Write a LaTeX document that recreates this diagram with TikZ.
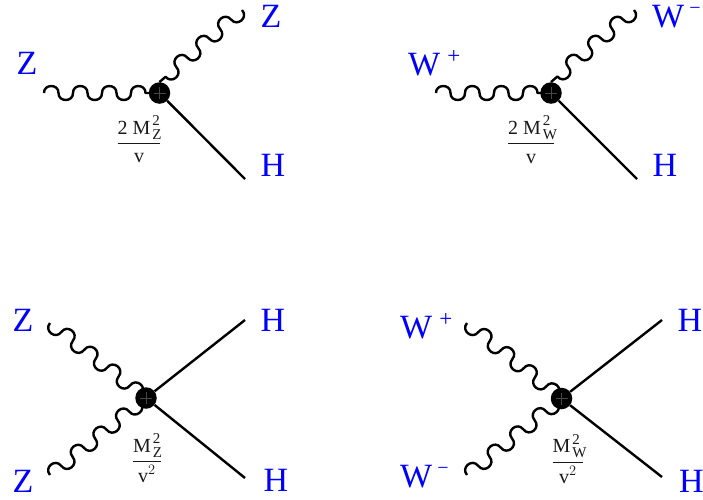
\documentclass[tikz,border=0pt]{standalone}
\usepackage{fontspec}
\setmainfont{Liberation Serif}
\usetikzlibrary{decorations}
\pgfdeclaredecoration{wigline}{up}{
  \state{up}[width=+.5\pgfdecorationsegmentlength,next state=down,
    switch if less than=.5\pgfdecorationsegmentlength to last]{
    \pgfpathcurveto
      {\pgfqpoint{-.01\pgfdecorationsegmentlength}{1.33\pgfdecorationsegmentamplitude}}
      {\pgfqpoint{.51\pgfdecorationsegmentlength}{1.33\pgfdecorationsegmentamplitude}}
      {\pgfqpoint{.5\pgfdecorationsegmentlength}{0pt}}
  }
  \state{down}[width=+.5\pgfdecorationsegmentlength,next state=up,
    switch if less than=.5\pgfdecorationsegmentlength to last]{
    \pgfpathcurveto
      {\pgfqpoint{-.01\pgfdecorationsegmentlength}{-1.33\pgfdecorationsegmentamplitude}}
      {\pgfqpoint{.51\pgfdecorationsegmentlength}{-1.33\pgfdecorationsegmentamplitude}}
      {\pgfqpoint{.5\pgfdecorationsegmentlength}{0pt}}
  }
  \state{last}{\pgfpathlineto{\pgfpointdecoratedpathlast}}
  \state{final}{\pgfpathlineto{\pgfpointdecoratedpathlast}}
}
\newcommand{\sbp}[2]{\hspace{2pt}\rlap{\raisebox{8.5pt}{\fontsize{15}{15}\selectfont #1}}\raisebox{-5pt}{\fontsize{15}{15}\selectfont #2}}
\newcommand{\frc}[2]{$\displaystyle{\hbox{#1}\above 1.2pt\hbox{#2}}$}
\newcommand{\Wp}{W\hspace{7pt}\raisebox{12pt}{\fontsize{23}{23}\selectfont +}}
\newcommand{\Wm}{W\hspace{5pt}\raisebox{13pt}{\fontsize{20}{20}\selectfont −}}
\newcommand{\blobhatch}[1]{\draw[hatch] ([xshift=-6pt]#1.center) -- ([xshift=6pt]#1.center);
  \draw[hatch] ([yshift=-6pt]#1.center) -- ([yshift=6pt]#1.center);}
\tikzset{
  x=1pt,y=-1pt,
  lab/.style={text=blue,font=\fontsize{34}{34}\selectfont,inner sep=0pt},
  wlab/.style={lab,anchor=west},
  coup/.style={text=black!90,font=\fontsize{20}{20}\selectfont,inner sep=0pt},
  blob/.style={circle,fill=black,minimum size=21.5pt,inner sep=0pt},
  scalar/.style={draw=black,line width=2.4pt},
  boson/.style={draw=black,line width=2.4pt,line join=round,decorate,
    decoration={wigline,segment length=29pt,amplitude=#1}},
  boson/.default=7.5pt,
  hatch/.style={draw=black!72,line width=0.25pt}
}
\begin{document}
\begin{tikzpicture}
\useasboundingbox (0,0) rectangle (703,499);
% top-left
\node[blob] (v1) at (159.5,93) {};
\coordinate (a1) at (44,93);
\coordinate (b1) at (242,10);
\coordinate (c1) at (245,179);
\draw[boson=7pt] (a1) -- (v1.center);
\draw[boson] (b1) -- (v1.north);
\draw[scalar] (v1) -- (c1);
\blobhatch{v1}
\node[lab] (z1) at (27,63) {Z};
\node[lab] (z2) at (271,16) {Z};
\node[lab] (h1) at (273,165) {H};
\node[coup] (f1) at (139,139.5) {\frc{2 M\sbp{2}{Z}\hspace{-1pt}}{v}};
% top-right
\node[blob] (v2) at (551,93) {};
\coordinate (a2) at (436,93);
\coordinate (b2) at (634,10);
\coordinate (c2) at (637,179);
\draw[boson=7pt] (a2) -- (v2.center);
\draw[boson] (b2) -- (v2.north);
\draw[scalar] (v2) -- (c2);
\blobhatch{v2}
\node[wlab] (w1) at (408,63) {\Wp};
\node[wlab] (w2) at (652,16.5) {\Wm};
\node[lab] (h2) at (665,165) {H};
\node[coup] (f2) at (531,139.5) {\frc{2 M\sbp{2}{W}\hspace{-3pt}}{v}};
% bottom-left
\node[blob] (v3) at (146,398) {};
\coordinate (a3) at (50,323);
\coordinate (b3) at (50,475);
\coordinate (c3) at (245,320);
\coordinate (d3) at (245,478);
\draw[boson=-7.5pt] (a3) -- (v3.center);
\draw[boson] (b3) -- (v3.center);
\draw[scalar] (v3) -- (c3);
\draw[scalar] (v3) -- (d3);
\blobhatch{v3}
\node[lab] (z3) at (23,320) {Z};
\node[lab] (z4) at (23,481) {Z};
\node[lab] (h3) at (273,320) {H};
\node[lab] (h4) at (276,480) {H};
\node[coup] (f3) at (147,458) {\frc{M\sbp{2}{Z}\hspace{-1pt}}{v$^{\fontsize{15}{15}\selectfont 2}$}};
% bottom-right
\node[blob] (v4) at (561.5,398.5) {};
\coordinate (a4) at (467,323);
\coordinate (b4) at (467,475);
\coordinate (c4) at (662,320);
\coordinate (d4) at (662,477);
\draw[boson=-7.5pt] (a4) -- (v4.center);
\draw[boson] (b4) -- (v4.center);
\draw[scalar] (v4) -- (c4);
\draw[scalar] (v4) -- (d4);
\blobhatch{v4}
\node[wlab] (w3) at (400,326) {\Wp};
\node[wlab] (w4) at (400,477) {\Wm};
\node[lab] (h5) at (690,320) {H};
\node[lab] (h6) at (691.5,481) {H};
\node[coup] (f4) at (568,459) {\frc{M\sbp{2}{W}\hspace{-3pt}}{v$^{\fontsize{15}{15}\selectfont 2}$}};
\end{tikzpicture}
\end{document}
